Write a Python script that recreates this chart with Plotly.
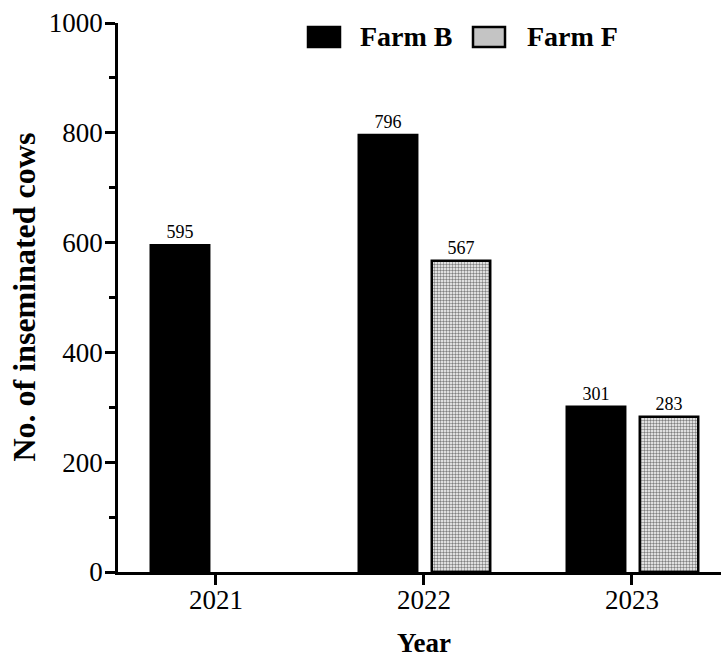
import plotly.graph_objects as go

# Inseminated cows per year on the two farms
years = ["2021", "2022", "2023"]
farm_b = [595, 796, 301]
farm_f = [None, 567, 283]

SERIF = "Liberation Serif, Times New Roman, serif"

fig = go.Figure()

bar_w = 0.281
fig.add_trace(go.Bar(
    x=years, y=farm_b, name="Farm B",
    width=bar_w, offset=-0.3135,
    marker=dict(color="black", line=dict(color="black", width=2.5)),
    text=[str(v) for v in farm_b], textposition="outside",
    textfont=dict(family=SERIF, size=18, color="black"),
    cliponaxis=False, showlegend=False,
))
fig.add_trace(go.Bar(
    x=years, y=farm_f, name="Farm F",
    width=bar_w, offset=0.0375,
    marker=dict(
        color="white",
        line=dict(color="black", width=2.5),
        pattern=dict(shape=".", fgcolor="#808080", bgcolor="white",
                     size=3, solidity=0.5, fillmode="replace"),
    ),
    text=["" if v is None else str(v) for v in farm_f], textposition="outside",
    textfont=dict(family=SERIF, size=18, color="black"),
    cliponaxis=False, showlegend=False,
))

# Legend swatches and labels
legend_items = [("Farm B", "black", 308, 358), ("Farm F", "#c4c4c4", 473, 525)]
W, H = 721, 657
ML, MT, MB = 118, 23, 85
PW, PH = W - ML, H - MT - MB


def px_x(p):
    return (p - ML) / PW


def px_y(p):
    return 1 - (p - MT) / PH


for label, fill, sx, tx in legend_items:
    fig.add_shape(type="rect", xref="paper", yref="paper",
                  x0=px_x(sx), x1=px_x(sx + 32), y0=px_y(47), y1=px_y(27),
                  fillcolor=fill, line=dict(color="black", width=2.5))
    fig.add_annotation(xref="paper", yref="paper", x=px_x(tx), y=px_y(37),
                       xanchor="left", yanchor="middle", showarrow=False,
                       text="<b>%s</b>" % label,
                       font=dict(family=SERIF, size=28, color="black"))

# Axis titles
fig.add_annotation(xref="paper", yref="paper", x=0, y=0.5, xshift=-95,
                   xanchor="center", yanchor="middle", textangle=-90,
                   showarrow=False, text="<b>No. of inseminated cows</b>",
                   font=dict(family=SERIF, size=32, color="black"))
fig.add_annotation(xref="x", yref="paper", x=years.index("2022"), y=0, yshift=-71,
                   xanchor="center", yanchor="middle", showarrow=False,
                   text="<b>Year</b>",
                   font=dict(family=SERIF, size=27, color="black"))

fig.update_layout(
    width=W, height=H,
    margin=dict(l=ML, r=0, t=MT, b=MB, pad=0),
    paper_bgcolor="white", plot_bgcolor="white",
    barmode="overlay",
    font=dict(family=SERIF, color="black"),
    xaxis=dict(
        type="category", range=[-0.471, -0.471 + PW / 208],
        showline=True, linecolor="black", linewidth=2.5,
        ticks="outside", ticklen=10, tickwidth=2.5, tickcolor="black",
        tickfont=dict(family=SERIF, size=27, color="black"),
        ticklabelstandoff=-8,
        showgrid=False, zeroline=False, fixedrange=True,
    ),
    yaxis=dict(
        range=[0, 1000], tickvals=[0, 200, 400, 600, 800, 1000],
        showline=True, linecolor="black", linewidth=2.5,
        ticks="outside", ticklen=10, tickwidth=2.5, tickcolor="black",
        tickfont=dict(family=SERIF, size=27, color="black"),
        ticklabelstandoff=-3,
        minor=dict(dtick=100, ticks="outside", ticklen=6, tickwidth=2.5,
                   tickcolor="black", showgrid=False),
        showgrid=False, zeroline=False, fixedrange=True,
    ),
)

fig.write_html("out.html")
